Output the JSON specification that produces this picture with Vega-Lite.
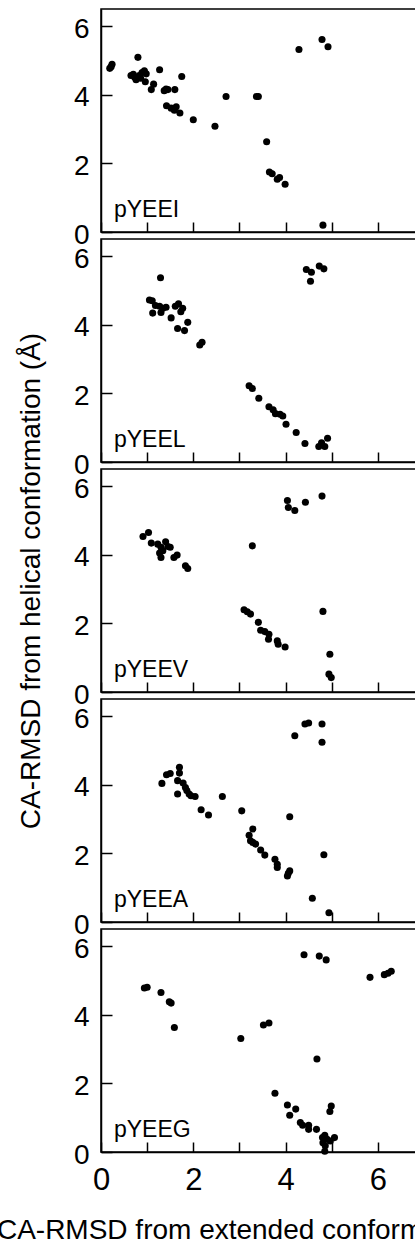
{
  "$schema": "https://vega.github.io/schema/vega-lite/v6.json",
  "padding": {"left": -5, "top": 8, "right": 0, "bottom": 0},
  "bounds": "flush",
  "spacing": 7,
  "data": {"values": [
    {"peptide":"pYEEI","x":0.19,"y":4.77},{"peptide":"pYEEI","x":0.24,"y":4.89},{"peptide":"pYEEI","x":0.22,"y":4.82},
    {"peptide":"pYEEI","x":0.80,"y":5.09},{"peptide":"pYEEI","x":0.65,"y":4.56},{"peptide":"pYEEI","x":0.73,"y":4.51},
    {"peptide":"pYEEI","x":0.76,"y":4.44},{"peptide":"pYEEI","x":0.83,"y":4.56},{"peptide":"pYEEI","x":0.89,"y":4.65},
    {"peptide":"pYEEI","x":0.94,"y":4.70},{"peptide":"pYEEI","x":0.98,"y":4.61},{"peptide":"pYEEI","x":0.96,"y":4.38},
    {"peptide":"pYEEI","x":0.70,"y":4.60},{"peptide":"pYEEI","x":0.86,"y":4.48},
    {"peptide":"pYEEI","x":1.09,"y":4.15},{"peptide":"pYEEI","x":1.14,"y":4.31},{"peptide":"pYEEI","x":1.27,"y":4.73},
    {"peptide":"pYEEI","x":1.37,"y":4.12},{"peptide":"pYEEI","x":1.41,"y":4.17},{"peptide":"pYEEI","x":1.45,"y":4.15},
    {"peptide":"pYEEI","x":1.60,"y":4.15},{"peptide":"pYEEI","x":1.42,"y":3.68},{"peptide":"pYEEI","x":1.52,"y":3.61},
    {"peptide":"pYEEI","x":1.63,"y":3.65},{"peptide":"pYEEI","x":1.59,"y":3.55},{"peptide":"pYEEI","x":1.71,"y":3.47},
    {"peptide":"pYEEI","x":1.75,"y":4.53},{"peptide":"pYEEI","x":2.00,"y":3.27},{"peptide":"pYEEI","x":2.47,"y":3.08},
    {"peptide":"pYEEI","x":2.71,"y":3.95},{"peptide":"pYEEI","x":3.37,"y":3.95},{"peptide":"pYEEI","x":3.41,"y":3.95},
    {"peptide":"pYEEI","x":3.59,"y":2.63},{"peptide":"pYEEI","x":3.65,"y":1.75},{"peptide":"pYEEI","x":3.71,"y":1.70},
    {"peptide":"pYEEI","x":3.82,"y":1.54},{"peptide":"pYEEI","x":3.87,"y":1.59},{"peptide":"pYEEI","x":3.99,"y":1.39},
    {"peptide":"pYEEI","x":4.29,"y":5.32},{"peptide":"pYEEI","x":4.79,"y":5.61},{"peptide":"pYEEI","x":4.92,"y":5.40},
    {"peptide":"pYEEI","x":4.81,"y":0.20},

    {"peptide":"pYEEL","x":1.05,"y":4.72},{"peptide":"pYEEL","x":1.11,"y":4.70},{"peptide":"pYEEL","x":1.12,"y":4.34},
    {"peptide":"pYEEL","x":1.18,"y":4.56},{"peptide":"pYEEL","x":1.29,"y":5.37},{"peptide":"pYEEL","x":1.27,"y":4.54},
    {"peptide":"pYEEL","x":1.30,"y":4.36},{"peptide":"pYEEL","x":1.34,"y":4.48},{"peptide":"pYEEL","x":1.41,"y":4.51},
    {"peptide":"pYEEL","x":1.52,"y":4.20},{"peptide":"pYEEL","x":1.61,"y":4.54},{"peptide":"pYEEL","x":1.68,"y":4.61},
    {"peptide":"pYEEL","x":1.73,"y":4.38},{"peptide":"pYEEL","x":1.77,"y":4.48},{"peptide":"pYEEL","x":1.66,"y":3.89},
    {"peptide":"pYEEL","x":1.81,"y":3.83},{"peptide":"pYEEL","x":1.88,"y":4.07},{"peptide":"pYEEL","x":2.14,"y":3.41},
    {"peptide":"pYEEL","x":2.19,"y":3.49},{"peptide":"pYEEL","x":3.21,"y":2.22},{"peptide":"pYEEL","x":3.28,"y":2.14},
    {"peptide":"pYEEL","x":3.42,"y":1.86},{"peptide":"pYEEL","x":3.64,"y":1.61},{"peptide":"pYEEL","x":3.73,"y":1.52},
    {"peptide":"pYEEL","x":3.78,"y":1.41},{"peptide":"pYEEL","x":3.88,"y":1.39},{"peptide":"pYEEL","x":3.94,"y":1.34},
    {"peptide":"pYEEL","x":4.01,"y":1.10},{"peptide":"pYEEL","x":4.23,"y":0.86},{"peptide":"pYEEL","x":4.42,"y":0.54},
    {"peptide":"pYEEL","x":4.72,"y":0.45},{"peptide":"pYEEL","x":4.78,"y":0.56},{"peptide":"pYEEL","x":4.85,"y":0.45},
    {"peptide":"pYEEL","x":4.91,"y":0.69},{"peptide":"pYEEL","x":4.45,"y":5.61},{"peptide":"pYEEL","x":4.56,"y":5.53},
    {"peptide":"pYEEL","x":4.54,"y":5.27},{"peptide":"pYEEL","x":4.73,"y":5.71},{"peptide":"pYEEL","x":4.83,"y":5.63},

    {"peptide":"pYEEV","x":0.91,"y":4.53},{"peptide":"pYEEV","x":1.03,"y":4.65},{"peptide":"pYEEV","x":1.09,"y":4.34},
    {"peptide":"pYEEV","x":1.23,"y":4.31},{"peptide":"pYEEV","x":1.30,"y":4.22},{"peptide":"pYEEV","x":1.30,"y":3.92},
    {"peptide":"pYEEV","x":1.34,"y":4.12},{"peptide":"pYEEV","x":1.40,"y":4.38},{"peptide":"pYEEV","x":1.45,"y":4.24},
    {"peptide":"pYEEV","x":1.50,"y":4.22},{"peptide":"pYEEV","x":1.58,"y":3.92},{"peptide":"pYEEV","x":1.65,"y":3.99},
    {"peptide":"pYEEV","x":1.83,"y":3.68},{"peptide":"pYEEV","x":1.88,"y":3.60},{"peptide":"pYEEV","x":1.27,"y":4.05},
    {"peptide":"pYEEV","x":3.28,"y":4.26},{"peptide":"pYEEV","x":3.10,"y":2.40},{"peptide":"pYEEV","x":3.17,"y":2.34},
    {"peptide":"pYEEV","x":3.24,"y":2.27},{"peptide":"pYEEV","x":3.41,"y":2.03},{"peptide":"pYEEV","x":3.46,"y":1.80},
    {"peptide":"pYEEV","x":3.55,"y":1.76},{"peptide":"pYEEV","x":3.63,"y":1.54},{"peptide":"pYEEV","x":3.64,"y":1.68},
    {"peptide":"pYEEV","x":3.82,"y":1.49},{"peptide":"pYEEV","x":3.84,"y":1.39},{"peptide":"pYEEV","x":3.99,"y":1.31},
    {"peptide":"pYEEV","x":4.04,"y":5.58},{"peptide":"pYEEV","x":4.06,"y":5.38},{"peptide":"pYEEV","x":4.20,"y":5.29},
    {"peptide":"pYEEV","x":4.43,"y":5.53},{"peptide":"pYEEV","x":4.79,"y":5.71},{"peptide":"pYEEV","x":4.81,"y":2.35},
    {"peptide":"pYEEV","x":4.96,"y":1.10},{"peptide":"pYEEV","x":4.94,"y":0.52},{"peptide":"pYEEV","x":4.99,"y":0.42},

    {"peptide":"pYEEA","x":1.32,"y":4.04},{"peptide":"pYEEA","x":1.42,"y":4.29},{"peptide":"pYEEA","x":1.50,"y":4.33},
    {"peptide":"pYEEA","x":1.70,"y":4.51},{"peptide":"pYEEA","x":1.70,"y":4.34},{"peptide":"pYEEA","x":1.66,"y":4.12},
    {"peptide":"pYEEA","x":1.66,"y":3.73},{"peptide":"pYEEA","x":1.78,"y":4.05},{"peptide":"pYEEA","x":1.83,"y":3.92},
    {"peptide":"pYEEA","x":1.86,"y":3.83},{"peptide":"pYEEA","x":1.91,"y":3.73},{"peptide":"pYEEA","x":1.95,"y":3.68},
    {"peptide":"pYEEA","x":2.04,"y":3.66},{"peptide":"pYEEA","x":2.17,"y":3.27},{"peptide":"pYEEA","x":2.33,"y":3.12},
    {"peptide":"pYEEA","x":2.63,"y":3.66},{"peptide":"pYEEA","x":3.05,"y":3.24},{"peptide":"pYEEA","x":3.29,"y":2.71},
    {"peptide":"pYEEA","x":3.21,"y":2.53},{"peptide":"pYEEA","x":3.24,"y":2.37},{"peptide":"pYEEA","x":3.29,"y":2.32},
    {"peptide":"pYEEA","x":3.35,"y":2.27},{"peptide":"pYEEA","x":3.46,"y":2.10},{"peptide":"pYEEA","x":3.55,"y":1.95},
    {"peptide":"pYEEA","x":3.77,"y":1.83},{"peptide":"pYEEA","x":3.82,"y":1.68},{"peptide":"pYEEA","x":3.82,"y":1.59},
    {"peptide":"pYEEA","x":4.06,"y":1.42},{"peptide":"pYEEA","x":4.09,"y":1.49},{"peptide":"pYEEA","x":4.04,"y":1.34},
    {"peptide":"pYEEA","x":4.09,"y":3.07},{"peptide":"pYEEA","x":4.20,"y":5.43},{"peptide":"pYEEA","x":4.42,"y":5.77},
    {"peptide":"pYEEA","x":4.50,"y":5.80},{"peptide":"pYEEA","x":4.79,"y":5.77},{"peptide":"pYEEA","x":4.79,"y":5.24},
    {"peptide":"pYEEA","x":4.83,"y":1.96},{"peptide":"pYEEA","x":4.58,"y":0.69},{"peptide":"pYEEA","x":4.94,"y":0.27},

    {"peptide":"pYEEG","x":0.94,"y":4.78},{"peptide":"pYEEG","x":1.00,"y":4.80},{"peptide":"pYEEG","x":1.30,"y":4.65},
    {"peptide":"pYEEG","x":1.48,"y":4.38},{"peptide":"pYEEG","x":1.52,"y":4.34},{"peptide":"pYEEG","x":1.59,"y":3.63},
    {"peptide":"pYEEG","x":3.03,"y":3.31},{"peptide":"pYEEG","x":3.52,"y":3.70},{"peptide":"pYEEG","x":3.64,"y":3.76},
    {"peptide":"pYEEG","x":3.77,"y":1.71},{"peptide":"pYEEG","x":4.04,"y":1.37},{"peptide":"pYEEG","x":4.22,"y":1.25},
    {"peptide":"pYEEG","x":4.09,"y":1.07},{"peptide":"pYEEG","x":4.32,"y":0.86},{"peptide":"pYEEG","x":4.37,"y":0.78},
    {"peptide":"pYEEG","x":4.50,"y":0.78},{"peptide":"pYEEG","x":4.50,"y":0.66},{"peptide":"pYEEG","x":4.67,"y":0.66},
    {"peptide":"pYEEG","x":4.68,"y":2.71},{"peptide":"pYEEG","x":4.40,"y":5.75},{"peptide":"pYEEG","x":4.73,"y":5.71},
    {"peptide":"pYEEG","x":4.88,"y":5.60},{"peptide":"pYEEG","x":5.83,"y":5.09},{"peptide":"pYEEG","x":6.14,"y":5.17},
    {"peptide":"pYEEG","x":6.22,"y":5.21},{"peptide":"pYEEG","x":6.29,"y":5.27},{"peptide":"pYEEG","x":4.96,"y":1.18},
    {"peptide":"pYEEG","x":4.99,"y":1.34},{"peptide":"pYEEG","x":4.85,"y":0.49},{"peptide":"pYEEG","x":4.81,"y":0.27},
    {"peptide":"pYEEG","x":4.90,"y":0.37},{"peptide":"pYEEG","x":4.97,"y":0.32},{"peptide":"pYEEG","x":5.06,"y":0.42},
    {"peptide":"pYEEG","x":4.86,"y":0.18},{"peptide":"pYEEG","x":4.85,"y":0.02},{"peptide":"pYEEG","x":4.80,"y":0.42}
  ]},
  "vconcat": [
    {
      "width": 323, "height": 223,
      "transform": [{"filter": "datum.peptide === 'pYEEI'"}],
      "layer": [
        {"mark": {"type": "point", "filled": true, "size": 50, "color": "black", "opacity": 1},
         "encoding": {
           "x": {"field": "x", "type": "quantitative", "scale": {"domain": [0, 7], "nice": false},
                 "axis": {"values": [0,1,2,3,4,5,6,7], "labels": false, "title": null, "tickSize": -10}},
           "y": {"field": "y", "type": "quantitative", "scale": {"domain": [0, 6.5], "nice": false},
                 "axis": {"values": [0,1,2,3,4,5,6], "labelExpr": "datum.value % 2 === 0 ? datum.label : ''", "title": null, "labelPadding": 23, "labelOffset": 3, "tickSize": -11}}
         }},
        {"transform": [{"aggregate": [{"op": "count", "as": "n"}], "groupby": ["peptide"]}],
         "mark": {"type": "text", "align": "left", "baseline": "alphabetic", "fontSize": 23, "font": "Liberation Sans", "color": "black"},
         "encoding": {"x": {"datum": 0.28}, "y": {"datum": 0.44}, "text": {"field": "peptide"}}}
      ]
    },
    {
      "width": 323, "height": 223,
      "transform": [{"filter": "datum.peptide === 'pYEEL'"}],
      "layer": [
        {"mark": {"type": "point", "filled": true, "size": 50, "color": "black", "opacity": 1},
         "encoding": {
           "x": {"field": "x", "type": "quantitative", "scale": {"domain": [0, 7], "nice": false},
                 "axis": {"values": [0,1,2,3,4,5,6,7], "labels": false, "title": null, "tickSize": -10}},
           "y": {"field": "y", "type": "quantitative", "scale": {"domain": [0, 6.5], "nice": false},
                 "axis": {"values": [0,1,2,3,4,5,6], "labelExpr": "datum.value % 2 === 0 ? datum.label : ''", "title": null, "labelPadding": 23, "labelOffset": 3, "tickSize": -11}}
         }},
        {"transform": [{"aggregate": [{"op": "count", "as": "n"}], "groupby": ["peptide"]}],
         "mark": {"type": "text", "align": "left", "baseline": "alphabetic", "fontSize": 23, "font": "Liberation Sans", "color": "black"},
         "encoding": {"x": {"datum": 0.28}, "y": {"datum": 0.44}, "text": {"field": "peptide"}}}
      ]
    },
    {
      "width": 323, "height": 223,
      "transform": [{"filter": "datum.peptide === 'pYEEV'"}],
      "layer": [
        {"mark": {"type": "point", "filled": true, "size": 50, "color": "black", "opacity": 1},
         "encoding": {
           "x": {"field": "x", "type": "quantitative", "scale": {"domain": [0, 7], "nice": false},
                 "axis": {"values": [0,1,2,3,4,5,6,7], "labels": false, "title": null, "tickSize": -10}},
           "y": {"field": "y", "type": "quantitative", "scale": {"domain": [0, 6.5], "nice": false},
                 "axis": {"values": [0,1,2,3,4,5,6], "labelExpr": "datum.value % 2 === 0 ? datum.label : ''", "title": "CA-RMSD from helical conformation (Å)", "titlePadding": 28, "labelPadding": 23, "labelOffset": 3, "tickSize": -11}}
         }},
        {"transform": [{"aggregate": [{"op": "count", "as": "n"}], "groupby": ["peptide"]}],
         "mark": {"type": "text", "align": "left", "baseline": "alphabetic", "fontSize": 23, "font": "Liberation Sans", "color": "black"},
         "encoding": {"x": {"datum": 0.28}, "y": {"datum": 0.44}, "text": {"field": "peptide"}}}
      ]
    },
    {
      "width": 323, "height": 223,
      "transform": [{"filter": "datum.peptide === 'pYEEA'"}],
      "layer": [
        {"mark": {"type": "point", "filled": true, "size": 50, "color": "black", "opacity": 1},
         "encoding": {
           "x": {"field": "x", "type": "quantitative", "scale": {"domain": [0, 7], "nice": false},
                 "axis": {"values": [0,1,2,3,4,5,6,7], "labels": false, "title": null, "tickSize": -10}},
           "y": {"field": "y", "type": "quantitative", "scale": {"domain": [0, 6.5], "nice": false},
                 "axis": {"values": [0,1,2,3,4,5,6], "labelExpr": "datum.value % 2 === 0 ? datum.label : ''", "title": null, "labelPadding": 23, "labelOffset": 3, "tickSize": -11}}
         }},
        {"transform": [{"aggregate": [{"op": "count", "as": "n"}], "groupby": ["peptide"]}],
         "mark": {"type": "text", "align": "left", "baseline": "alphabetic", "fontSize": 23, "font": "Liberation Sans", "color": "black"},
         "encoding": {"x": {"datum": 0.28}, "y": {"datum": 0.44}, "text": {"field": "peptide"}}}
      ]
    },
    {
      "width": 323, "height": 223,
      "transform": [{"filter": "datum.peptide === 'pYEEG'"}],
      "layer": [
        {"mark": {"type": "point", "filled": true, "size": 50, "color": "black", "opacity": 1},
         "encoding": {
           "x": {"field": "x", "type": "quantitative", "scale": {"domain": [0, 7], "nice": false},
                 "axis": {"values": [0,1,2,3,4,5,6,7], "labelExpr": "datum.value % 2 === 0 ? datum.label : ''", "labelBaseline": "top", "labelFlush": false, "labelFontSize": 31, "labelPadding": 23, "title": "CA-RMSD from extended conformation (Å)", "titlePadding": 21, "tickSize": -10}},
           "y": {"field": "y", "type": "quantitative", "scale": {"domain": [0, 6.5], "nice": false},
                 "axis": {"values": [0,1,2,3,4,5,6], "labelExpr": "datum.value % 2 === 0 ? datum.label : ''", "title": null, "labelPadding": 23, "labelOffset": 3, "tickSize": -11}}
         }},
        {"transform": [{"aggregate": [{"op": "count", "as": "n"}], "groupby": ["peptide"]}],
         "mark": {"type": "text", "align": "left", "baseline": "alphabetic", "fontSize": 23, "font": "Liberation Sans", "color": "black"},
         "encoding": {"x": {"datum": 0.28}, "y": {"datum": 0.44}, "text": {"field": "peptide"}}}
      ]
    }
  ],
  "config": {
    "font": "Liberation Sans",
    "view": {"stroke": "black", "strokeWidth": 1.5},
    "axis": {
      "grid": false,
      "domainColor": "black", "domainWidth": 1.5,
      "tickColor": "black", "tickWidth": 1.5,
      "labelFont": "Liberation Sans", "labelFontSize": 28, "labelColor": "black",
      "titleFont": "Liberation Sans", "titleFontSize": 28, "titleFontWeight": "normal", "titleColor": "black"
    }
  }
}
